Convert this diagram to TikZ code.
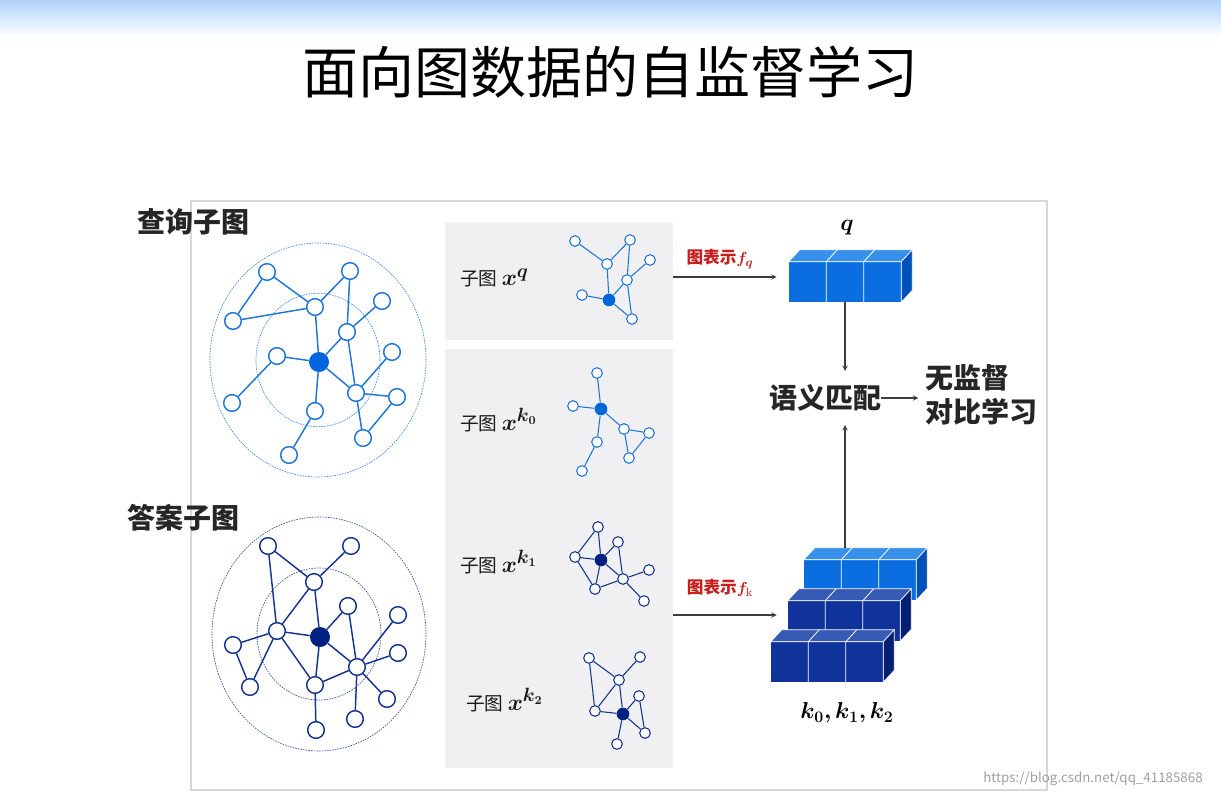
\documentclass[tikz,border=0pt]{standalone}
\usepackage{bm}
\usepackage[no-math]{fontspec}
\setmainfont{Noto Sans CJK SC}
\usetikzlibrary{shapes, arrows, calc, positioning}

\definecolor{topsky}{RGB}{175,210,250}
\definecolor{framegray}{RGB}{215,215,218}
\definecolor{panelgray}{RGB}{240,240,242}
\definecolor{arrowgray}{RGB}{60,60,60}
\definecolor{fxred}{RGB}{200,30,30}
\definecolor{qblue}{RGB}{30,118,214}
\definecolor{qcore}{RGB}{0,102,221}
\definecolor{kblue}{RGB}{22,52,142}
\definecolor{kcore}{RGB}{0,32,130}
\definecolor{cubeLight}{RGB}{10,110,225}
\definecolor{cubeLightTop}{RGB}{55,145,235}
\definecolor{cubeLightSide}{RGB}{0,80,185}
\definecolor{cubeDark}{RGB}{15,50,155}
\definecolor{cubeDarkTop}{RGB}{55,90,180}
\definecolor{cubeDarkSide}{RGB}{5,32,115}

\tikzstyle{title}     = [font=\fontsize{42}{50}\selectfont, 
                         text=black, 
                         inner sep=0pt]
\tikzstyle{heading}   = [font=\fontsize{21}{26}\selectfont\bfseries, 
                         text=black!85, 
                         inner sep=0pt, 
                         anchor=west]
\tikzstyle{sublabel}  = [font=\fontsize{14}{16}\selectfont, 
                         text=black!90, 
                         inner sep=0pt, 
                         anchor=west]
\tikzstyle{fxlabel}   = [font=\fontsize{12.5}{14}\selectfont\bfseries, 
                         text=fxred, 
                         inner sep=0pt]
\tikzstyle{veclabel}  = [font=\fontsize{17.5}{20}\selectfont, 
                         inner sep=0pt]
\tikzstyle{panel}     = [rectangle, 
                         fill=panelgray, 
                         inner sep=0pt]
\tikzstyle{vecfront}  = [rectangle, 
                         minimum width=84pt, 
                         minimum height=30pt, 
                         inner sep=0pt]
\tikzstyle{ring}      = [dash pattern=on 1.2pt off 0.8pt, 
                         line width=0.5pt]
\tikzstyle{qnode}     = [circle, draw=qblue, fill=white, line width=1.1pt, 
                         minimum size=12.5pt, inner sep=0pt]
\tikzstyle{qcenter}   = [circle, fill=qcore, minimum size=15pt, inner sep=0pt]
\tikzstyle{knode}     = [circle, draw=kblue, fill=white, line width=1.1pt, 
                         minimum size=12.5pt, inner sep=0pt]
\tikzstyle{kcenter}   = [circle, fill=kcore, minimum size=15pt, inner sep=0pt]
\tikzstyle{sqnode}    = [circle, draw=qblue, fill=white, line width=0.8pt, 
                         minimum size=8pt, inner sep=0pt]
\tikzstyle{sqcenter}  = [circle, fill=qcore, minimum size=9.5pt, inner sep=0pt]
\tikzstyle{sknode}    = [circle, draw=kblue, fill=white, line width=0.8pt, 
                         minimum size=8pt, inner sep=0pt]
\tikzstyle{skcenter}  = [circle, fill=kcore, minimum size=9.5pt, inner sep=0pt]
\tikzstyle{qedge}     = [draw=qblue, line width=1.1pt]
\tikzstyle{kedge}     = [draw=kblue, line width=1.1pt]
\tikzstyle{sqedge}    = [draw=qblue, line width=0.8pt]
\tikzstyle{skedge}    = [draw=kblue, line width=0.8pt]
\tikzstyle{arrow}     = [draw=arrowgray, line width=0.8pt, ->, >=stealth]

% top and side faces of a row of three cubes, #1 is the front face node
\newcommand{\cubebar}[3]{%
    \path[fill=#2, draw=white, line width=0.5pt] (#1.north west) -- ++(11,-12)
        -- ($(#1.north east)+(11,-12)$) -- (#1.north east) -- cycle;
    \path[fill=#3, draw=white, line width=0.5pt] (#1.north east) -- ++(11,-12)
        -- ($(#1.south east)+(11,-12)$) -- (#1.south east) -- cycle;
    \draw[white, line width=0.6pt]
        ($(#1.north west)!1/3!(#1.north east)$) -- ++(11,-12)
        ($(#1.north west)!2/3!(#1.north east)$) -- ++(11,-12)
        ($(#1.north west)!1/3!(#1.north east)$) -- ($(#1.south west)!1/3!(#1.south east)$)
        ($(#1.north west)!2/3!(#1.north east)$) -- ($(#1.south west)!2/3!(#1.south east)$);
}
% bold math label of a sampled subgraph
\newcommand{\subx}[1]{{\fontsize{19}{20}\selectfont$\bm{x^{#1}}$}}

\begin{document}
\begin{tikzpicture}[x=0.75pt, y=-0.75pt]
        \useasboundingbox (0,0) rectangle (1221,799);
        \shade[top color=topsky, bottom color=white] (0,0) rectangle (1221,36);
        \draw[draw=framegray, line width=0.8pt] (191,201) rectangle (1047,790);

        \node [title] (title) at (610,72) {面向图数据的自监督学习};

        \node [panel, minimum width=171pt, minimum height=88.5pt] (panelq) at (559,281) {};
        \node [panel, minimum width=171pt, minimum height=314.25pt] (panelk) at (559,558.5) {};

        \node [heading] (qhead) at (137,222) {查询子图};
        \node [heading] (khead) at (127,518) {答案子图};

        % query subgraph
        \draw [ring, qblue!85] (318,360) ellipse [x radius=81pt, y radius=87.75pt];
        \draw [ring, qblue!85] (318,360) ellipse [x radius=46.5pt, y radius=50pt];
        \node [qnode] (qA) at (267,272) {};
        \node [qnode] (qB) at (350,271) {};
        \node [qnode] (qC) at (315,307) {};
        \node [qnode] (qD) at (233,321) {};
        \node [qnode] (qE) at (382,301) {};
        \node [qnode] (qF) at (347,332) {};
        \node [qnode] (qG) at (277,356) {};
        \node [qcenter] (qH) at (319,362) {};
        \node [qnode] (qI) at (392,352) {};
        \node [qnode] (qJ) at (356,393) {};
        \node [qnode] (qK) at (397,397) {};
        \node [qnode] (qL) at (232,403) {};
        \node [qnode] (qM) at (315,411) {};
        \node [qnode] (qN) at (363,438) {};
        \node [qnode] (qO) at (289,455) {};
        \draw [qedge] (qA) -- (qC) (qA) -- (qD) (qD) -- (qC) (qB) -- (qC) (qB) -- (qF)
                      (qE) -- (qF) (qC) -- (qH) (qF) -- (qH) (qG) -- (qH) (qG) -- (qL)
                      (qH) -- (qJ) (qH) -- (qM) (qF) -- (qJ) (qI) -- (qJ) (qJ) -- (qK)
                      (qJ) -- (qN) (qK) -- (qN) (qM) -- (qO);

        % answer subgraph
        \draw [ring, kblue!85] (319,634) ellipse [x radius=80.25pt, y radius=87.75pt];
        \draw [ring, kblue!85] (319,634) ellipse [x radius=46.5pt, y radius=49.5pt];
        \node [knode] (aA) at (268,546) {};
        \node [knode] (aB) at (351,546) {};
        \node [knode] (aC) at (314,582) {};
        \node [knode] (aD) at (348,606) {};
        \node [knode] (aE) at (398,615) {};
        \node [knode] (aF) at (277,631) {};
        \node [kcenter] (aG) at (320,637) {};
        \node [knode] (aH) at (233,645) {};
        \node [knode] (aI) at (398,653) {};
        \node [knode] (aJ) at (357,667) {};
        \node [knode] (aK) at (315,685) {};
        \node [knode] (aL) at (250,687) {};
        \node [knode] (aM) at (387,699) {};
        \node [knode] (aN) at (355,719) {};
        \node [knode] (aO) at (316,730) {};
        \draw [kedge] (aA) -- (aC) (aA) -- (aF) (aB) -- (aC) (aC) -- (aF) (aC) -- (aG)
                      (aD) -- (aG) (aD) -- (aJ) (aF) -- (aG) (aF) -- (aH) (aH) -- (aL)
                      (aL) -- (aF) (aF) -- (aK) (aG) -- (aK) (aG) -- (aJ) (aK) -- (aJ)
                      (aJ) -- (aE) (aJ) -- (aI) (aJ) -- (aM) (aJ) -- (aN) (aK) -- (aO);

        % sampled subgraphs
        \node [sublabel] (xq) at (460,278) {子图 \subx{q}};
        \node [sqnode] (sqA) at (575,241) {};
        \node [sqnode] (sqB) at (630,240) {};
        \node [sqnode] (sqC) at (607,264) {};
        \node [sqnode] (sqD) at (650,260) {};
        \node [sqnode] (sqE) at (627,280) {};
        \node [sqnode] (sqF) at (582,295) {};
        \node [sqcenter] (sqG) at (609,300) {};
        \node [sqnode] (sqH) at (632,319) {};
        \draw [sqedge] (sqA) -- (sqC) (sqB) -- (sqC) (sqB) -- (sqE) (sqC) -- (sqG) (sqD) -- (sqE)
                       (sqE) -- (sqG) (sqE) -- (sqH) (sqF) -- (sqG) (sqG) -- (sqH);

        \node [sublabel] (xk0) at (460,420) {子图 \subx{k_0}};
        \node [sqnode] (kaA) at (597,373) {};
        \node [sqnode] (kaB) at (573,406) {};
        \node [sqcenter] (kaC) at (601,409) {};
        \node [sqnode] (kaD) at (624,429) {};
        \node [sqnode] (kaE) at (649,433) {};
        \node [sqnode] (kaF) at (597,442) {};
        \node [sqnode] (kaG) at (629,458) {};
        \node [sqnode] (kaH) at (582,471) {};
        \draw [sqedge] (kaA) -- (kaC) (kaB) -- (kaC) (kaC) -- (kaD) (kaC) -- (kaF)
                       (kaD) -- (kaE) (kaD) -- (kaG) (kaE) -- (kaG) (kaF) -- (kaH);

        \node [sublabel] (xk1) at (460,562) {子图 \subx{k_1}};
        \node [sknode] (kbA) at (598,527) {};
        \node [sknode] (kbB) at (618,542) {};
        \node [sknode] (kbC) at (575,557) {};
        \node [skcenter] (kbD) at (601,560) {};
        \node [sknode] (kbE) at (623,579) {};
        \node [sknode] (kbF) at (649,570) {};
        \node [sknode] (kbG) at (595,589) {};
        \node [sknode] (kbH) at (644,601) {};
        \draw [skedge] (kbA) -- (kbC) (kbA) -- (kbD) (kbB) -- (kbD) (kbB) -- (kbE) (kbC) -- (kbD)
                       (kbC) -- (kbG) (kbD) -- (kbE) (kbD) -- (kbG) (kbE) -- (kbG) (kbE) -- (kbF)
                       (kbE) -- (kbH);

        \node [sublabel] (xk2) at (466,700) {子图 \subx{k_2}};
        \node [sknode] (kcA) at (589,658) {};
        \node [sknode] (kcB) at (640,657) {};
        \node [sknode] (kcC) at (619,680) {};
        \node [sknode] (kcD) at (639,696) {};
        \node [sknode] (kcE) at (595,711) {};
        \node [skcenter] (kcF) at (623,714) {};
        \node [sknode] (kcG) at (645,733) {};
        \node [sknode] (kcH) at (617,744) {};
        \draw [skedge] (kcA) -- (kcC) (kcA) -- (kcE) (kcB) -- (kcC) (kcC) -- (kcE) (kcC) -- (kcF)
                       (kcE) -- (kcF) (kcF) -- (kcD) (kcD) -- (kcG) (kcF) -- (kcG) (kcF) -- (kcH);

        % representations
        \node [vecfront, fill=cubeLight] (qvec) at (845,282) {};
        \cubebar{qvec}{cubeLightTop}{cubeLightSide}
        \node [veclabel] (qname) at (847,228) {$\bm{q}$};

        \node [vecfront, fill=cubeLight] (kveca) at (860,580) {};
        \cubebar{kveca}{cubeLightTop}{cubeLightSide}
        \node [vecfront, fill=cubeDark] (kvecb) at (844,621) {};
        \cubebar{kvecb}{cubeDarkTop}{cubeDarkSide}
        \node [vecfront, fill=cubeDark] (kvecc) at (827,662) {};
        \cubebar{kvecc}{cubeDarkTop}{cubeDarkSide}
        \node [veclabel] (kname) at (847,713) {$\bm{k_0, k_1, k_2}$};

        \coordinate (qin) at ($(qvec.west)+(-12,-5)$);
        \coordinate (kin) at ($(kvecb.west)+(-11,-6)$);
        \coordinate (ktop) at ($(kveca.north west)+(11,-12)$);
        \draw [arrow] (panelq.east |- qin) -- (qin);
        \draw [arrow] (panelk.east |- kin) -- (kin);
        \node [fxlabel] (fqlabel) at (720,259) {图表示$\bm{f_q}$};
        \node [fxlabel] (fklabel) at (720,588) {图表示$\bm{f}_{\mathrm{k}}$};

        \node [heading, anchor=center] (match) at (825,398) {语义匹配};
        \node [heading, align=left] (learn) at (925,395) {无监督\\对比学习};

        \draw [arrow, shorten >=10pt] (qvec.south) -- (qvec.south |- match.north);
        \draw [arrow, shorten >=10pt] (qvec.south |- ktop) -- (qvec.south |- match.south);
        \draw [arrow, shorten >=5pt] (match.east) -- (match.east -| learn.west);

        \node [font=\fontsize{10}{12}\selectfont, text=gray!75, inner sep=0pt] (mark) at (1093,779) {https://blog.csdn.net/qq\_41185868};
\end{tikzpicture}
\end{document}
